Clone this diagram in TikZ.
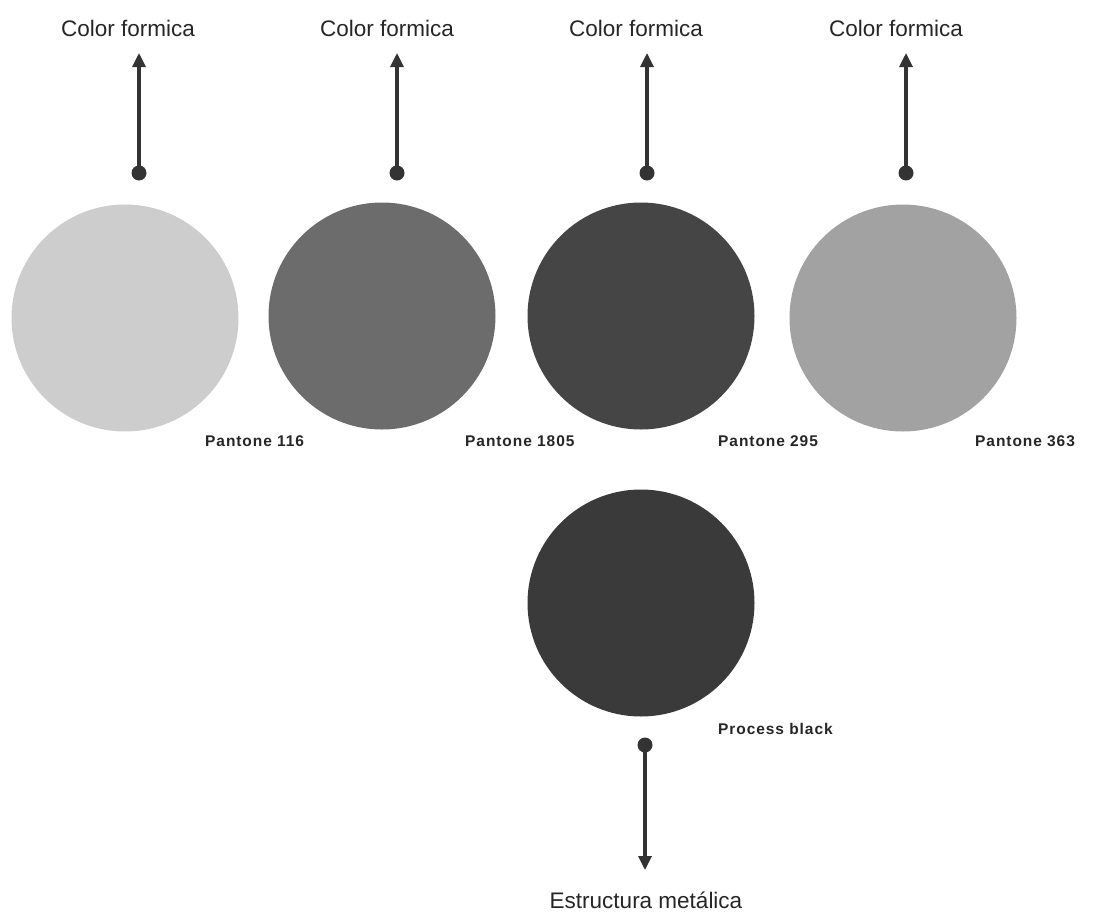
\documentclass[tikz,border=0pt]{standalone}
\usepackage{fontspec}
\setmainfont{Liberation Sans}
\newfontfamily\labfont[LetterSpace=6]{Liberation Sans Bold}
\usetikzlibrary{arrows.meta}
\definecolor{ink}{HTML}{333333}
\definecolor{cA}{HTML}{CDCDCD}
\definecolor{cB}{HTML}{6C6C6C}
\definecolor{cC}{HTML}{454545}
\definecolor{cD}{HTML}{A2A2A2}
\definecolor{cE}{HTML}{3A3A3A}
\tikzset{
  swatch/.style={circle, minimum size=227pt, inner sep=0pt},
  dotnode/.style={circle, fill=ink, minimum size=15pt, inner sep=0pt},
  conn/.style={draw=ink, line width=3.2pt, -{Triangle[length=14pt,width=13pt]}},
  toplabel/.style={font=\fontsize{22.5}{26}\selectfont, text=black!85},
  pantone/.style={font=\labfont\fontsize{15.5}{18}\selectfont, text=black!85, anchor=west, inner sep=0pt}
}
\begin{document}
\begin{tikzpicture}[x=1pt,y=-1pt]
\useasboundingbox (0,0) rectangle (1095,916);
% swatches
\node[swatch, fill=cA] (s1) at (125,318) {};
\node[swatch, fill=cB] (s2) at (382,316) {};
\node[swatch, fill=cC] (s3) at (641,316) {};
\node[swatch, fill=cD] (s4) at (903,318) {};
\node[swatch, fill=cE] (s5) at (641,603) {};
% pantone labels
\node[pantone] (p1) at (205,441) {Pantone 116};
\node[pantone] (p2) at (465,441) {Pantone 1805};
\node[pantone] (p3) at (718,441) {Pantone 295};
\node[pantone] (p4) at (975,441) {Pantone 363};
\node[pantone] (p5) at (718,729) {Process black};
% top labels
\node[toplabel] (t1) at (128,28) {Color formica};
\node[toplabel] (t2) at (387,28) {Color formica};
\node[toplabel] (t3) at (636,28) {Color formica};
\node[toplabel] (t4) at (896,28) {Color formica};
% dots
\node[dotnode] (d1) at (139,173) {};
\node[dotnode] (d2) at (397,173) {};
\node[dotnode] (d3) at (647,173) {};
\node[dotnode] (d4) at (906,173) {};
\node[dotnode] (d5) at (645,745) {};
% arrow ends
\coordinate (a1) at (139,53);
\coordinate (a2) at (397,53);
\coordinate (a3) at (647,53);
\coordinate (a4) at (906,53);
\coordinate (a5) at (645,870);
\draw[conn] (d1.center) -- (a1);
\draw[conn] (d2.center) -- (a2);
\draw[conn] (d3.center) -- (a3);
\draw[conn] (d4.center) -- (a4);
\draw[conn] (d5.center) -- (a5);
% bottom label
\node[toplabel] (b1) at (646,900) {Estructura metálica};
\end{tikzpicture}
\end{document}
